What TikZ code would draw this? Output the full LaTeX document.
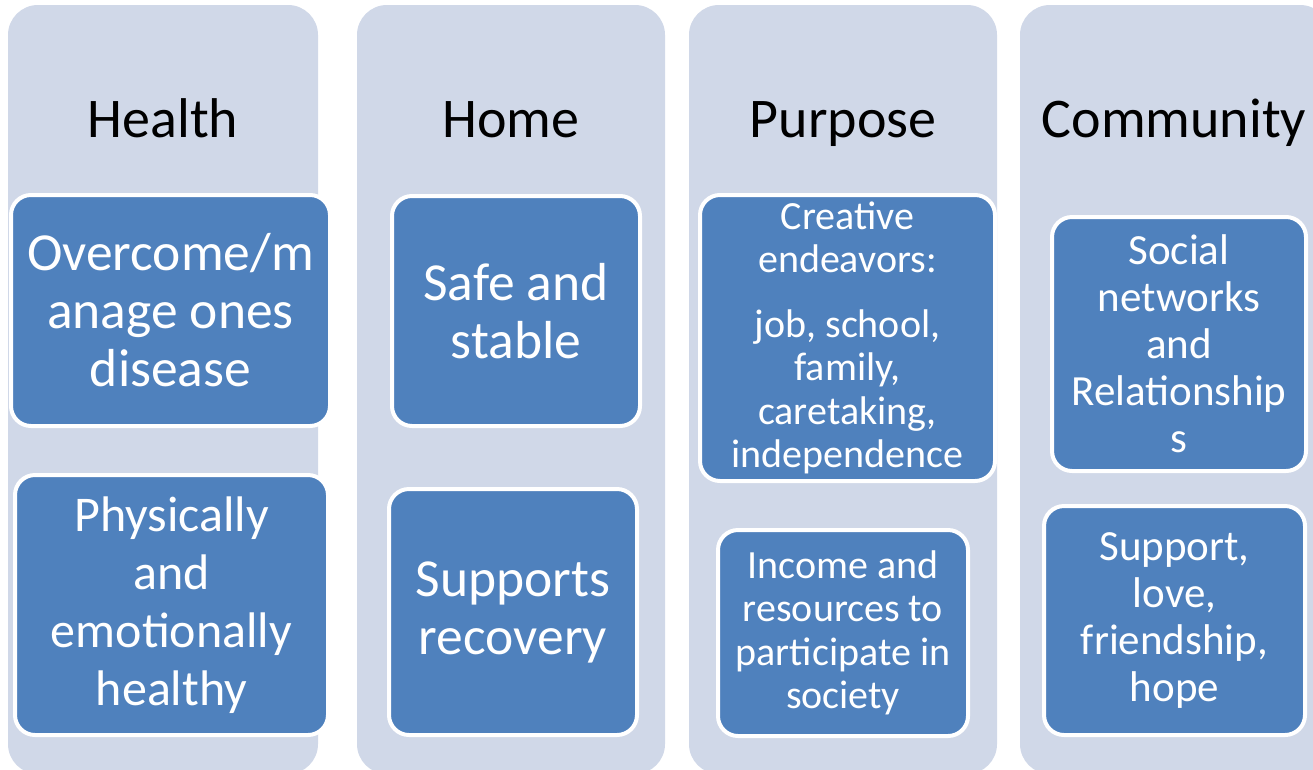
\documentclass[tikz,border=0pt]{standalone}
\usepackage{fontspec}
\setmainfont{Carlito}
\usepackage{xcolor}
\usepackage{tikz}

\definecolor{lanebg}{HTML}{D0D8E8}
\definecolor{itemblue}{HTML}{4F81BD}

\begin{document}
\begin{tikzpicture}[
    x=1pt, y=-1pt,
    lane/.style={fill=lanebg, rounded corners=30pt, inner sep=0pt, minimum height=769pt},
    head/.style={font=\fontsize{56}{66}\selectfont, text=black, anchor=base},
    item/.style={draw=white, line width=4pt, fill=itemblue, rounded corners=20pt,
        text=white, align=center, inner sep=0pt},
    bigtext/.style={font=\fontsize{53.5}{58}\selectfont},
    tighttext/.style={font=\fontsize{50}{58}\selectfont},
    midtext/.style={font=\fontsize{43}{47}\selectfont},
    smalltext/.style={font=\fontsize{40}{43.5}\selectfont}
]
\useasboundingbox[fill=white] (0,0) rectangle (1313,769);

\node[lane, minimum width=310pt] (healthlane) at (163,389.5) {};
\node[lane, minimum width=308pt] (homelane) at (511,389.5) {};
\node[lane, minimum width=308pt] (purposelane) at (843,389.5) {};
\node[lane, minimum width=310pt] (communitylane) at (1175,389.5) {};

\node[head] (health) at (163,137) {Health};
\node[head] (home) at (511,137) {Home};
\node[head] (purpose) at (843,137) {Purpose};
\node[head] (community) at (1174,137) {Community};

\node[item, bigtext, minimum width=319pt, minimum height=231pt] (disease) at (170.5,310.5)
    {Overcome/m\\anage ones\\disease};
\node[item, tighttext, minimum width=313pt, minimum height=260pt] (healthy) at (171.5,605)
    {Physically\\and\\emotionally\\healthy};

\node[item, bigtext, minimum width=248pt, minimum height=230pt] (safe) at (516,311)
    {Safe and\\stable};
\node[item, bigtext, minimum width=248pt, minimum height=246pt] (recovery) at (513,612)
    {Supports\\recovery};

\node[item, smalltext, minimum width=295pt, minimum height=286pt] (creative) at (847.5,338)
    {Creative\\endeavors:\\[21pt]job, school,\\family,\\caretaking,\\independence};
\node[item, smalltext, minimum width=250pt, minimum height=206pt] (income) at (843,633)
    {Income and\\resources to\\participate in\\society};

\node[item, midtext, minimum width=254pt, minimum height=254pt] (social) at (1179,344)
    {Social\\networks\\and\\Relationship\\s};
\node[item, midtext, minimum width=261pt, minimum height=229pt] (support) at (1174.5,620.5)
    {Support,\\love,\\friendship,\\hope};
\end{tikzpicture}
\end{document}
